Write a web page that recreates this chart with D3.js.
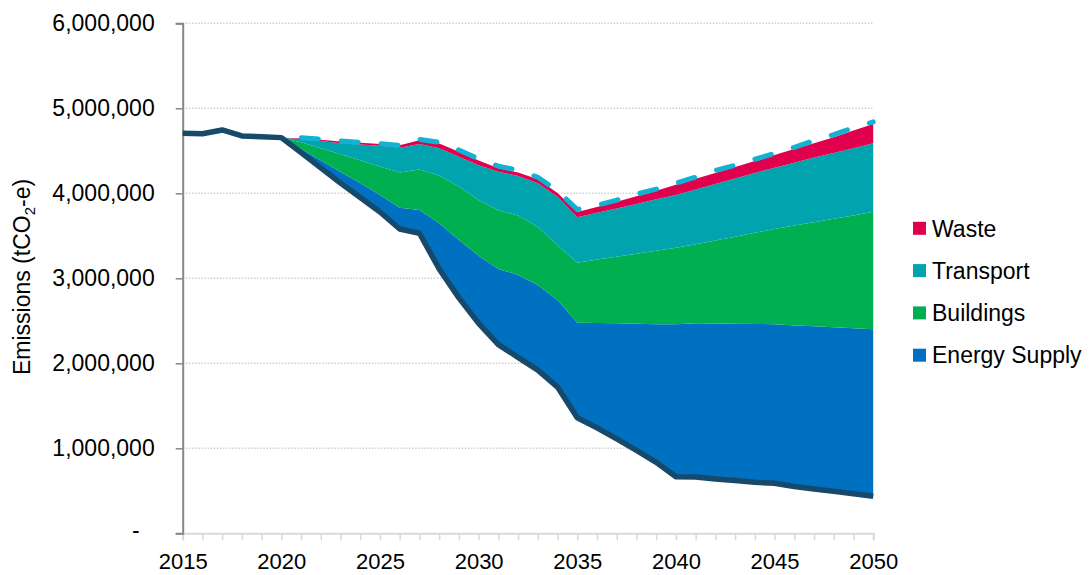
<!DOCTYPE html>
<html>
<head>
<meta charset="utf-8">
<script src="https://cdn.jsdelivr.net/npm/d3@7"></script>
<style>
  html, body { margin: 0; padding: 0; background: #fff; }
  svg { display: block; font-family: "Liberation Sans", Arial, sans-serif; }
</style>
</head>
<body>
<svg id="chart" width="1091" height="575"></svg>
<script>
// ---- Data (tCO2-e) ----
const years = d3.range(2015, 2051);
const yearTicks = [2015, 2020, 2025, 2030, 2035, 2040, 2045, 2050];
const yTicks = [0, 1000000, 2000000, 3000000, 4000000, 5000000, 6000000];

// Net emissions trajectory (dark line), 2015-2050
const netEmissions = [
  4706000, 4700000, 4745000, 4675000, 4665000, 4655000,
  4480000, 4300000, 4120000, 3950000, 3780000, 3580000, 3530000, 3110000, 2770000, 2470000,
  2220000, 2070000, 1920000, 1720000, 1360000, 1240000, 1110000, 975000, 835000, 665000,
  662000, 640000, 620000, 600000, 588000, 550000, 522000, 495000, 466000, 435000
];

// Reduction wedges by sector, 2020-2050
const wedgeYears = d3.range(2020, 2051);
const energySupply = [
  0, 40000, 90000, 130000, 170000, 200000, 250000, 275000, 537000, 680000, 795000,
  890000, 970000, 1000000, 1025000, 1118000, 1235000, 1360000, 1490000, 1625000, 1793000,
  1808000, 1828000, 1845000, 1862000, 1872000, 1895000, 1913000, 1930000, 1947000, 1965000
];
const buildings = [
  0, 80000, 140000, 210000, 270000, 335000, 415000, 475000, 563000, 630000, 655000,
  690000, 700000, 687000, 645000, 706000, 745000, 785000, 825000, 865000, 902000,
  930000, 977000, 1025000, 1073000, 1120000, 1175000, 1225000, 1275000, 1327000, 1384000
];
const transport = [
  0, 40000, 85000, 130000, 185000, 245000, 290000, 300000, 320000, 350000, 410000,
  455000, 465000, 511000, 570000, 534000, 550000, 565000, 585000, 605000, 620000,
  645000, 665000, 685000, 705000, 720000, 740000, 760000, 775000, 790000, 804000
];
const waste = [
  0, 8000, 15000, 20000, 20000, 20000, 30000, 45000, 55000, 60000, 55000,
  40000, 40000, 47000, 45000, 62000, 70000, 80000, 90000, 100000, 120000,
  125000, 130000, 135000, 140000, 150000, 160000, 170000, 185000, 210000, 227000
];
// Business-as-usual trajectory (dashed line), 2020-2050
const bau = [
  4655000, 4655000, 4635000, 4615000, 4600000, 4585000, 4565000, 4635000, 4600000, 4510000, 4405000,
  4320000, 4270000, 4190000, 4030000, 3810000, 3860000, 3920000, 3990000, 4050000, 4120000,
  4190000, 4270000, 4330000, 4400000, 4470000, 4540000, 4620000, 4690000, 4770000, 4840000
];

const seriesNames = ["Energy Supply", "Buildings", "Transport", "Waste"];
const seriesColors = ["#0070C0", "#00B050", "#00A3AE", "#E0004D"];

// ---- Build table ----
const netByYear = new Map(years.map((y, i) => [y, netEmissions[i]]));
const rows = wedgeYears.map((y, i) => ({
  year: y,
  base: netByYear.get(y),
  "Energy Supply": energySupply[i],
  "Buildings": buildings[i],
  "Transport": transport[i],
  "Waste": waste[i]
}));

// ---- Scales ----
const svg = d3.select("#chart");
const FONT = 23;
const x = d3.scaleLinear().domain([2015, 2050]).range([182.7, 873.2]);
const y = d3.scaleLinear().domain([0, 6000000]).range([533.3, 23.3]);

// gridlines
svg.append("g").selectAll("line")
  .data(yTicks.filter(d => d > 0))
  .join("line")
  .attr("x1", x(2015)).attr("x2", x(2050))
  .attr("y1", d => y(d)).attr("y2", d => y(d))
  .attr("stroke", "#D0D0D0").attr("stroke-width", 1.5)
  .attr("stroke-dasharray", "1.5,1.6");

// stacked areas
const stack = d3.stack().keys(["base", ...seriesNames]);
const stacked = stack(rows);
const area = d3.area()
  .x(d => x(d.data.year))
  .y0(d => y(d[0]))
  .y1(d => y(d[1]));

svg.append("g").selectAll("path")
  .data(stacked.slice(1))
  .join("path")
  .attr("d", area)
  .attr("fill", (d, i) => seriesColors[i]);

// axes
const xAxis = d3.axisBottom(x)
  .tickValues(years)
  .tickSize(7)
  .tickPadding(13)
  .tickFormat(d => (yearTicks.includes(d) ? String(d) : ""));
const gx = svg.append("g").attr("transform", `translate(0,${y(0)})`).call(xAxis);
gx.select(".domain").attr("stroke", "#D9D9D9").attr("stroke-width", 2);
gx.selectAll(".tick line").attr("stroke", "#D9D9D9").attr("stroke-width", 1.5);
gx.selectAll("text").attr("font-size", 22).attr("fill", "#000")
  .attr("font-family", "Liberation Sans, Arial, sans-serif");

const yAxis = d3.axisLeft(y)
  .tickValues(yTicks)
  .tickSize(7)
  .tickPadding(21)
  .tickFormat(d => (d === 0 ? "-" : d3.format(",")(d)));
const gy = svg.append("g").attr("transform", `translate(${x(2015)},0)`).call(yAxis);
gy.select(".domain").attr("stroke", "#868686").attr("stroke-width", 2);
gy.selectAll(".tick line").attr("stroke", "#868686").attr("stroke-width", 1.5);
gy.selectAll("text").attr("font-size", FONT).attr("fill", "#000")
  .attr("font-family", "Liberation Sans, Arial, sans-serif");
gy.selectAll(".tick").filter(d => d === 0).select("text").attr("dx", -15).attr("dy", "0.2em");

// net emissions line
const line = d3.line().x(d => x(d[0])).y(d => y(d[1]));
svg.append("path")
  .datum(years.map((yr, i) => [yr, netEmissions[i]]))
  .attr("d", line)
  .attr("fill", "none")
  .attr("stroke", "#17496B")
  .attr("stroke-width", 5.5)
  .attr("stroke-linejoin", "round");

// BAU dashed line
svg.append("path")
  .datum(wedgeYears.map((yr, i) => [yr, bau[i]]))
  .attr("d", line)
  .attr("fill", "none")
  .attr("stroke", "#12B2D3")
  .attr("stroke-width", 5)
  .attr("stroke-linecap", "round")
  .attr("stroke-dasharray", "17,23")
  .attr("stroke-dashoffset", "-20");

// y-axis title
const title = svg.append("text")
  .attr("transform", "translate(30,277) rotate(-90)")
  .attr("text-anchor", "middle")
  .attr("font-size", FONT)
  .attr("fill", "#000");
title.append("tspan").text("Emissions (tCO");
title.append("tspan").attr("font-size", FONT * 0.65).attr("dy", 5).text("2");
title.append("tspan").attr("dy", -5).text("-e)");

// legend
const legendOrder = [3, 2, 1, 0];
const lg = svg.append("g").selectAll("g")
  .data(legendOrder)
  .join("g")
  .attr("transform", (d, i) => `translate(913,${228.3 + i * 42.3})`);
lg.append("rect")
  .attr("x", 0).attr("y", -6.5).attr("width", 13).attr("height", 13)
  .attr("fill", d => seriesColors[d]);
lg.append("text")
  .attr("x", 19).attr("y", 0).attr("dy", "0.36em")
  .attr("font-size", FONT).attr("fill", "#000")
  .text(d => seriesNames[d]);
</script>
</body>
</html>
